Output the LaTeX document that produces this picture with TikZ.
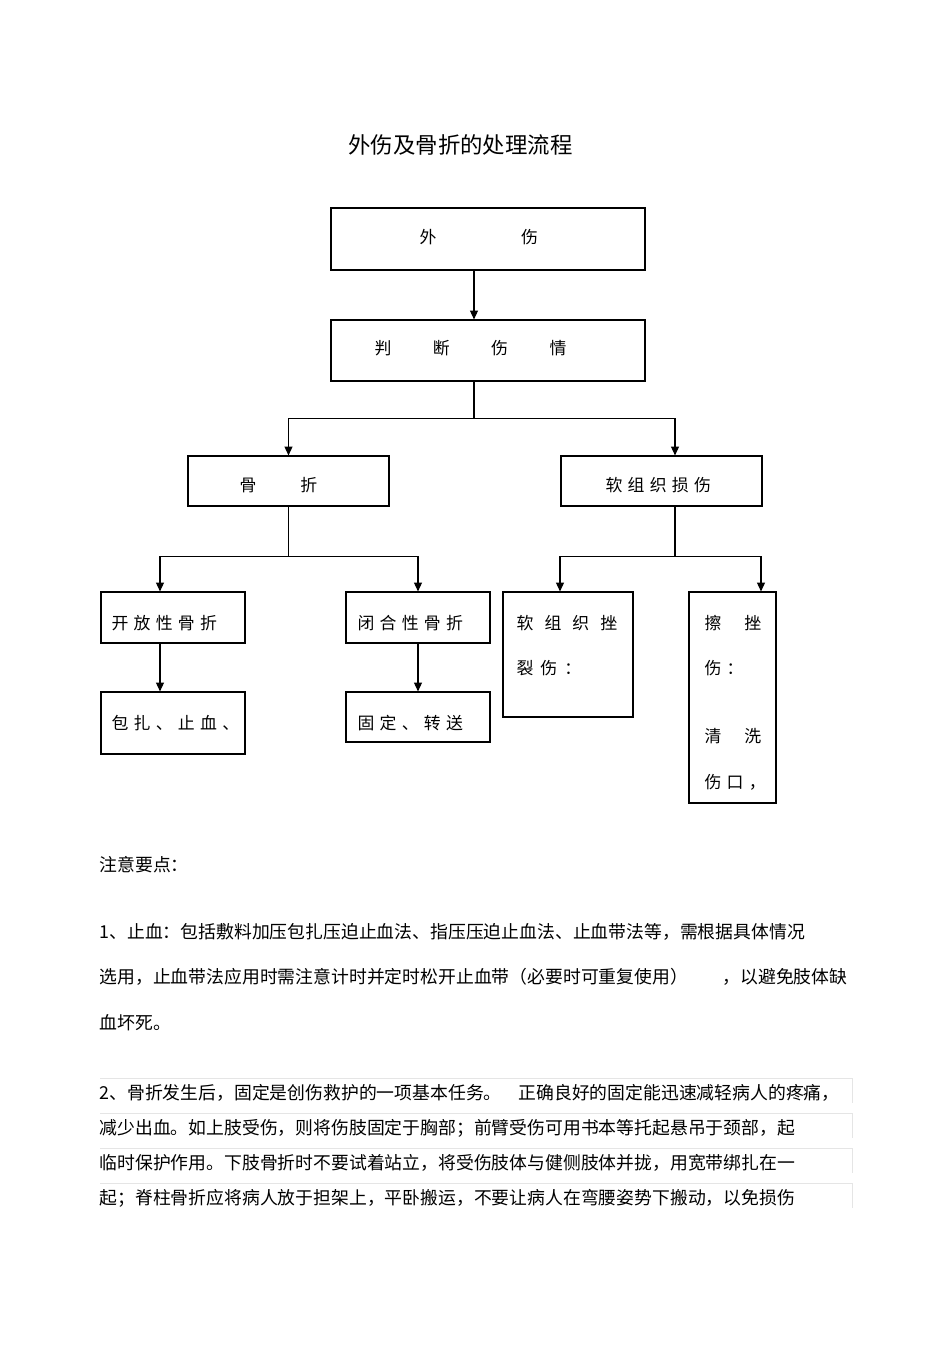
\documentclass[tikz,border=0pt]{standalone}
\usepackage{fontspec}
\setmainfont{Noto Sans CJK SC}
\usepackage{tikz}
\usetikzlibrary{arrows.meta,positioning,calc}

\newcommand{\gp}[1]{\hspace{#1pt}}

\begin{document}
\begin{tikzpicture}[x=0.02cm,y=-0.02cm,line width=0.65pt,>={Triangle[width=4.5pt,length=5pt]},
    box/.style={draw, inner sep=0pt},
    txt/.style={anchor=west, inner sep=0pt, font=\fontsize{9.6}{12}\selectfont},
    para/.style={anchor=west, inner sep=0pt, font=\fontsize{10.15}{12}\selectfont},
    faint/.style={draw=black!10, line width=0.5pt}]
      \useasboundingbox (0,0) rectangle (950,1345);

      % title
      \node[inner sep=0pt, font=\fontsize{12.75}{15}\selectfont] (title) at (460.5,145) {外伤及骨折的处理流程};

      % boxes
      \node[box, minimum width=6.28cm, minimum height=1.24cm] (waishang) at (488,239) {};
      \node[box, minimum width=6.28cm, minimum height=1.22cm] (panduan) at (488,350.5) {};
      \node[box, minimum width=4.02cm, minimum height=1cm] (guzhe) at (288.5,481) {};
      \node[box, minimum width=4.02cm, minimum height=1cm] (ruanzuzhi) at (661.5,481) {};
      \node[box, minimum width=2.88cm, minimum height=1.02cm] (kaifang) at (173,617.5) {};
      \node[box, minimum width=2.88cm, minimum height=1.02cm] (bihe) at (418,617.5) {};
      \node[box, minimum width=2.88cm, minimum height=1.24cm] (baozha) at (173,723) {};
      \node[box, minimum width=2.88cm, minimum height=1cm] (guding) at (418,717) {};
      \node[box, minimum width=2.6cm, minimum height=2.5cm] (cuolie) at (568,654.5) {};
      \node[box, minimum width=1.74cm, minimum height=4.22cm] (cashang) at (732.5,697.5) {};

      % box texts
      \node[txt] (waishang-t) at (419,237) {外\gp{48.2}伤};
      \node[txt] (panduan-t) at (374,348) {判\gp{23.6}断\gp{23.6}伤\gp{23.6}情};
      \node[txt] (guzhe-t) at (239,485) {骨\gp{25}折};
      \node[txt] (ruanzuzhi-t) at (605,485) {软\gp{3}组\gp{3}织\gp{3}损\gp{3}伤};
      \node[txt] (kaifang-t) at (111,623) {开\gp{3}放\gp{3}性\gp{3}骨\gp{3}折};
      \node[txt] (bihe-t) at (357,623) {闭\gp{3}合\gp{3}性\gp{3}骨\gp{3}折};
      \node[txt] (baozha-t) at (111,723) {包\gp{3}扎\gp{3}、\gp{3}止\gp{3}血\gp{3}、};
      \node[txt] (guding-t) at (357,723) {固\gp{3}定\gp{3}、\gp{3}转\gp{3}送};
      \node[txt] (cuolie-t1) at (516,623) {软\gp{6.3}组\gp{6.3}织\gp{6.3}挫};
      \node[txt] (cuolie-t2) at (516,668) {裂\gp{4}伤\gp{4}：};
      \node[txt] (cashang-t1) at (704,623) {擦\gp{13}挫};
      \node[txt] (cashang-t2) at (704,668) {伤\gp{3}：};
      \node[txt] (cashang-t3) at (704,736) {清\gp{13}洗};
      \node[txt] (cashang-t4) at (704,782) {伤\gp{3}口\gp{3}，};

      % connectors
      \coordinate (spine) at (474,0);
      \coordinate (lcol) at (160,0);
      \coordinate (rcol) at (675,0);
      \coordinate (cuo) at (560,0);
      \coordinate (ca) at (761,0);

      \draw[->] (waishang.south -| spine) -- (panduan.north -| spine);
      \draw (panduan.south -| spine) -- ++(0,37) coordinate (fork1);
      \draw[->] (fork1) -| (guzhe.north);
      \draw[->] (fork1) -| (ruanzuzhi.north -| rcol);

      \draw (guzhe.south) -- ++(0,50) coordinate (fork2);
      \draw[->] (fork2) -| (kaifang.north -| lcol);
      \draw[->] (fork2) -| (bihe.north);
      \draw[->] (kaifang.south -| lcol) -- (baozha.north -| lcol);
      \draw[->] (bihe) -- (guding);

      \draw (ruanzuzhi.south -| rcol) -- ++(0,50) coordinate (fork3);
      \draw[->] (fork3) -| (cuolie.north -| cuo);
      \draw[->] (fork3) -| (cashang.north -| ca);

      % notes
      \node[para] (note) at (99,865) {注意要点：};
      \node[para] (p1a) at (99,932) {1、止血：包括敷料加压包扎压迫止血法、指压压迫止血法、止血带法等，需根据具体情况};
      \node[para] (p1b) at (99,977) {选用，止血带法应用时需注意计时并定时松开止血带（必要时可重复使用）};
      \node[para] (p1c) at (722,977) {，以避免肢体缺};
      \node[para] (p1d) at (99,1023) {血坏死。};

      \foreach \y in {1078,1113,1148,1183}
        \draw[faint] (100,\y) -- (852,\y) -- (852,\y+25);

      \node[para] (p2a) at (99,1093) {2、骨折发生后，固定是创伤救护的一项基本任务。};
      \node[para] (p2b) at (518,1093) {正确良好的固定能迅速减轻病人的疼痛，};
      \node[para] (p2c) at (99,1128) {减少出血。如上肢受伤，则将伤肢固定于胸部；前臂受伤可用书本等托起悬吊于颈部，起};
      \node[para] (p2d) at (99,1163) {临时保护作用。下肢骨折时不要试着站立，将受伤肢体与健侧肢体并拢，用宽带绑扎在一};
      \node[para] (p2e) at (99,1198) {起；脊柱骨折应将病人放于担架上，平卧搬运，不要让病人在弯腰姿势下搬动，以免损伤};
\end{tikzpicture}
\end{document}
